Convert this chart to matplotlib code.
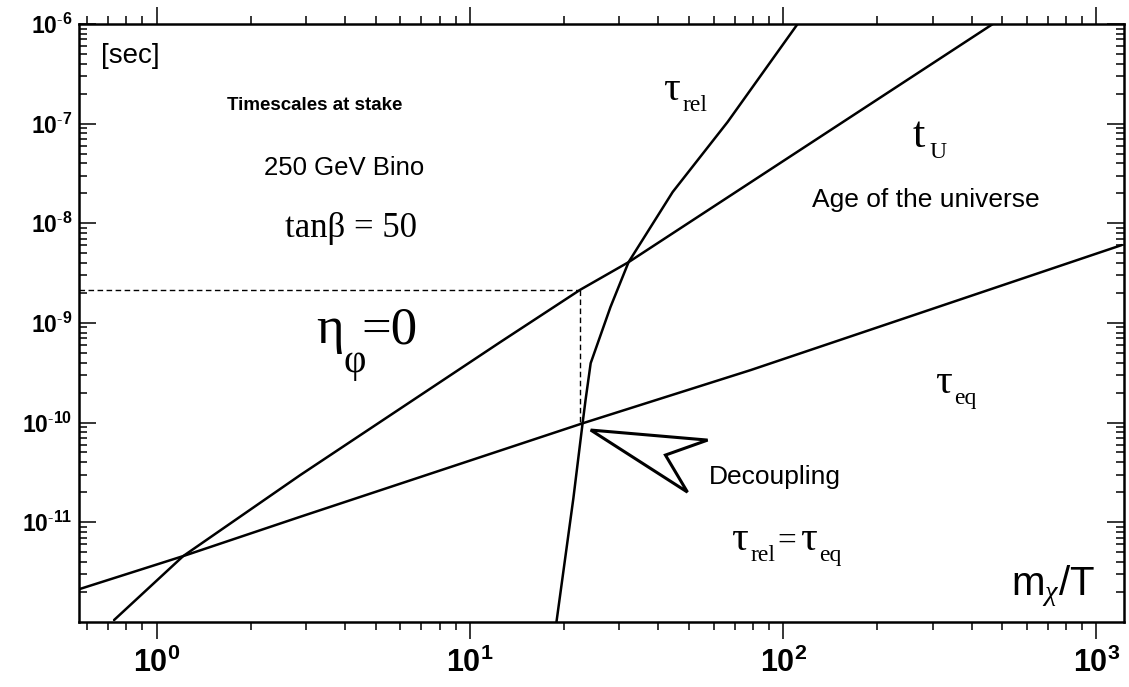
import matplotlib
matplotlib.use("Agg")
import matplotlib.pyplot as plt
from matplotlib.patches import Polygon
from matplotlib.ticker import LogLocator, FixedLocator, NullFormatter, FixedFormatter

plt.rcParams['font.family'] = ['Liberation Sans', 'DejaVu Sans']
plt.rcParams['mathtext.fontset'] = 'custom'
plt.rcParams['mathtext.rm'] = 'Liberation Serif'
plt.rcParams['mathtext.it'] = 'Liberation Serif:italic'
plt.rcParams['mathtext.bf'] = 'Liberation Sans:bold'
plt.rcParams['mathtext.sf'] = 'Liberation Sans'

# x = m_chi / T ; timescales in seconds
x_eq = [0.565, 1.215, 2.87, 23.0, 78.8, 1205]
tau_eq = [2.12e-12, 4.56e-12, 1.13e-11, 9.86e-11, 3.36e-10, 6.04e-9]

x_u = [0.731, 1.215, 2.87, 12.5, 22.5, 32.1, 467]
t_u = [1.04e-12, 4.56e-12, 2.96e-11, 6.41e-10, 2.15e-9, 4.07e-9, 1e-6]

x_rel = [18.9, 21.4, 22.9, 23.4, 24.3, 28.1, 32.1, 44.4, 66.5, 111.2]
tau_rel = [1e-12, 1.74e-11, 9.86e-11, 1.68e-10, 3.94e-10, 1.44e-9, 4.07e-9, 2.06e-8, 1.04e-7, 1e-6]

x_dec = 22.5
t_dec = 2.15e-9
tau_dec = 9.86e-11

# outline arrow pointing at the decoupling point
arrow_x = [24.3, 57.4, 42.1, 49.5]
arrow_y = [8.4e-11, 6.66e-11, 4.71e-11, 2.0e-11]

xticks = [1, 10, 100, 1000]
xlabels = [r'$\mathbf{10^{0}}$', r'$\mathbf{10^{1}}$', r'$\mathbf{10^{2}}$', r'$\mathbf{10^{3}}$']
yticks = [1e-11, 1e-10, 1e-9, 1e-8, 1e-7, 1e-6]
ylabels = [r'$\mathbf{10^{\text{-}11}}$', r'$\mathbf{10^{\text{-}10}}$', r'$\mathbf{10^{\text{-}9}}$',
           r'$\mathbf{10^{\text{-}8}}$', r'$\mathbf{10^{\text{-}7}}$', r'$\mathbf{10^{\text{-}6}}$']

fig = plt.figure(figsize=(11.29, 6.87), dpi=100)
ax = fig.add_axes([0.070, 0.095, 0.926, 0.870])
ax.set_xscale('log')
ax.set_yscale('log')
ax.set_xlim(0.565, 1230)
ax.set_ylim(1e-12, 1e-6)

lw = 1.8
ax.plot(x_eq, tau_eq, color='black', lw=lw, solid_capstyle='round')
ax.plot(x_u, t_u, color='black', lw=lw, solid_capstyle='round')
ax.plot(x_rel, tau_rel, color='black', lw=lw, solid_capstyle='round', solid_joinstyle='round')

ax.plot([ax.get_xlim()[0], x_dec], [t_dec, t_dec], color='black', lw=1.0, ls=(0, (4, 2.5)))
ax.plot([x_dec, x_dec], [t_dec, tau_dec], color='black', lw=1.0, ls=(0, (4, 2.5)))

ax.add_patch(Polygon(list(zip(arrow_x, arrow_y)), closed=True, fill=False,
                     edgecolor='black', lw=2.2, joinstyle='miter'))

# axes frame and ticks
for sp in ax.spines.values():
    sp.set_linewidth(1.8)
ax.xaxis.set_major_locator(FixedLocator(xticks))
ax.xaxis.set_major_formatter(FixedFormatter(xlabels))
ax.xaxis.set_minor_locator(LogLocator(base=10, subs=range(2, 10), numticks=20))
ax.xaxis.set_minor_formatter(NullFormatter())
ax.yaxis.set_major_locator(FixedLocator(yticks))
ax.yaxis.set_major_formatter(FixedFormatter(ylabels))
ax.yaxis.set_minor_locator(LogLocator(base=10, subs=range(2, 10), numticks=20))
ax.yaxis.set_minor_formatter(NullFormatter())

ax.tick_params(axis='x', which='both', direction='out', top=True, bottom=True, width=1.1)
ax.tick_params(axis='x', which='major', length=12, labelsize=22, pad=7)
ax.tick_params(axis='x', which='minor', length=5.5)
ax.tick_params(axis='y', which='both', direction='in', left=True, right=True, width=1.1)
ax.tick_params(axis='y', which='major', length=12, labelsize=16.5, pad=5)
ax.tick_params(axis='y', which='minor', length=5.5)

T = ax.transAxes
serif = ['Liberation Serif', 'DejaVu Serif']


def ax_xy(px, py):
    # pixel position in the figure -> axes fraction
    return (px - 79) / 1045.0, (621.7 - py) / 597.7


def sub_label(px, py, main, sub, size=30, subsize=17, dx=0.018, dy=-0.018):
    x, y = ax_xy(px, py)
    ax.text(x, y, main, transform=T, family=serif, fontsize=size, ha='left', va='baseline')
    ax.text(x + dx, y + dy, sub, transform=T, family=serif, fontsize=subsize, ha='left', va='baseline')


ax.text(*ax_xy(101, 56), '[sec]', transform=T, fontsize=20, ha='left', va='center')
ax.text(*ax_xy(315, 105), 'Timescales at stake', transform=T, fontsize=13.5,
        fontweight='bold', ha='center', va='center')
ax.text(*ax_xy(344, 168), '250 GeV Bino', transform=T, fontsize=18.5, ha='center', va='center')
ax.text(*ax_xy(351, 228), 'tan\u03b2 = 50', transform=T, family=serif, fontsize=25,
        ha='center', va='center')
ax.text(*ax_xy(812, 200), 'Age of the universe', transform=T, fontsize=19, ha='left', va='center')
ax.text(*ax_xy(709, 477), 'Decoupling', transform=T, fontsize=19, ha='left', va='center')

# eta_phi = 0
x0, y0 = ax_xy(316, 343)
ax.text(x0, y0, '\u03b7', transform=T, family=serif, fontsize=38, ha='left', va='baseline')
ax.text(x0 + 0.026, y0 - 0.048, '\u03c6', transform=T, family=serif, fontsize=28, ha='left', va='baseline')
ax.text(x0 + 0.043, y0, '=0', transform=T, family=serif, fontsize=38, ha='left', va='baseline')

# curve labels
sub_label(663, 100, '\u03c4', 'rel')
sub_label(912, 147, 't', 'U', size=32, dx=0.016)
sub_label(935, 393, '\u03c4', 'eq')

# tau_rel = tau_eq
x1, y1 = ax_xy(731, 550)
ax.text(x1, y1, '\u03c4', transform=T, family=serif, fontsize=30, ha='left', va='baseline')
ax.text(x1 + 0.018, y1 - 0.018, 'rel', transform=T, family=serif, fontsize=17, ha='left', va='baseline')
ax.text(x1 + 0.044, y1, '=', transform=T, family=serif, fontsize=24, ha='left', va='baseline')
ax.text(x1 + 0.066, y1, '\u03c4', transform=T, family=serif, fontsize=30, ha='left', va='baseline')
ax.text(x1 + 0.084, y1 - 0.018, 'eq', transform=T, family=serif, fontsize=17, ha='left', va='baseline')

ax.text(*ax_xy(1011, 595), r'm$_{\chi}$/T', transform=T, fontsize=29, ha='left', va='baseline')

fig.savefig('out.png', dpi=100)
